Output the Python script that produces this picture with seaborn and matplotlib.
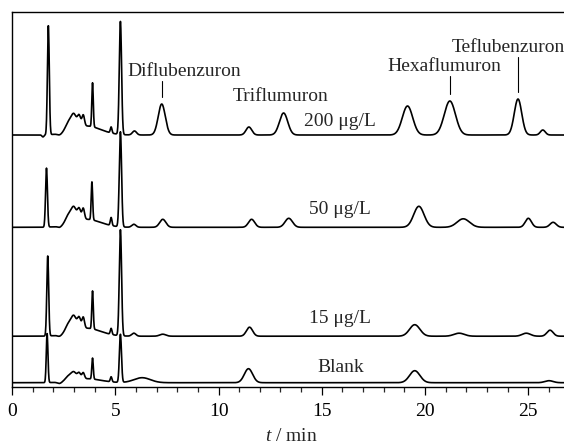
import numpy as np
import pandas as pd
import matplotlib
matplotlib.use("Agg")
import matplotlib.pyplot as plt
import seaborn as sns

# ---- data (y in arbitrary signal units) ----
traces = ["Blank", "15 μg/L", "50 μg/L", "200 μg/L"]
baselines = [4.0, 50.5, 159.4, 251.7]

# peak tables: retention time (min), height, width (sigma, min)
blank_t = [1.7, 2.3, 2.75, 3.0, 3.25, 3.45, 3.6, 3.9, 4.8, 5.25, 6.3, 11.45, 19.5, 26.0]
blank_h = [49, -1.5, 5, 7, 6, 6, 4, 21, 5, 48, 5, 14, 12, 2]
blank_w = [0.04, 0.1, 0.15, 0.12, 0.08, 0.06, 0.7, 0.035, 0.04, 0.05, 0.4, 0.2, 0.25, 0.2]

c15_t = [1.73, 2.3, 2.75, 3.0, 3.25, 3.45, 3.6, 3.9, 4.8, 5.25, 5.9, 7.3, 11.5, 19.5, 21.65, 24.9, 26.05]
c15_h = [80, -1.5, 9, 13, 11, 11, 8, 38, 6, 106, 3, 2, 9, 11.5, 3, 3, 6]
c15_w = [0.045, 0.1, 0.15, 0.12, 0.08, 0.06, 0.7, 0.035, 0.04, 0.055, 0.1, 0.15, 0.15, 0.25, 0.25, 0.2, 0.15]

c50_t = [1.67, 2.3, 2.75, 3.0, 3.25, 3.45, 3.6, 3.87, 4.8, 5.25, 5.9, 7.3, 11.6, 13.4, 19.7, 21.85, 25.0, 26.2]
c50_h = [59, -1.5, 9, 13, 11, 11, 8, 38, 8, 95, 3, 8, 8, 9, 21, 8.5, 9, 5]
c50_w = [0.045, 0.1, 0.15, 0.12, 0.08, 0.06, 0.7, 0.035, 0.04, 0.055, 0.1, 0.15, 0.15, 0.18, 0.25, 0.3, 0.15, 0.15]

c200_t = [1.5, 1.76, 2.3, 2.75, 3.0, 3.25, 3.45, 3.6, 3.9, 4.8, 5.25, 5.93, 7.25, 11.47, 13.15, 19.15, 21.2, 24.5, 25.7]
c200_h = [-2, 109, -1.5, 9, 13, 11, 11, 9, 44, 6, 113, 4, 31, 8, 22, 29, 34, 36, 5]
c200_w = [0.05, 0.045, 0.1, 0.15, 0.12, 0.08, 0.06, 0.7, 0.035, 0.04, 0.055, 0.1, 0.17, 0.14, 0.2, 0.25, 0.27, 0.18, 0.12]

peak_tables = [(blank_t, blank_h, blank_w), (c15_t, c15_h, c15_w),
               (c50_t, c50_h, c50_w), (c200_t, c200_h, c200_w)]

compounds = ["Diflubenzuron", "Triflumuron", "Hexaflumuron", "Teflubenzuron"]
compound_rt = [7.25, 13.15, 21.2, 24.5]

x_ticks = [0, 5, 10, 15, 20, 25]

# ---- build curves from peak tables ----
t = np.arange(0, 27.001, 0.01)
frames = []
for name, base, (pt, ph, pw) in zip(traces, baselines, peak_tables):
    y = np.full_like(t, base)
    for a, h, w in zip(pt, ph, pw):
        y = y + h * np.exp(-0.5 * ((t - a) / w) ** 2)
    frames.append(pd.DataFrame({"t": t, "signal": y, "trace": name}))
df = pd.concat(frames, ignore_index=True)

sns.set_theme(style="white")
plt.rcParams["font.family"] = ["Liberation Serif", "DejaVu Serif"]
plt.rcParams["mathtext.fontset"] = "custom"
plt.rcParams["mathtext.it"] = "Liberation Serif:italic"
plt.rcParams["mathtext.rm"] = "Liberation Serif"

fig = plt.figure(figsize=(5.64, 4.45), dpi=100)
ax = fig.add_axes([12 / 564, 1 - 386.7 / 445, 1 - 12 / 564 + 0.01, (386.7 - 12) / 445])

sns.lineplot(data=df, x="t", y="signal", hue="trace", palette=["black"] * 4,
             legend=False, linewidth=1.2, ax=ax, estimator=None, sort=False)

ax.set_xlim(0, 27)
ax.set_ylim(0, 374.7)
ax.set_yticks([])
ax.set_xticks(x_ticks)
ax.set_xticks(np.arange(0, 28, 1), minor=True)
ax.tick_params(axis="x", which="major", direction="out", length=5.8, width=0.9,
               labelsize=14, pad=6, bottom=True, colors="black")
ax.tick_params(axis="x", which="minor", direction="out", length=3.6, width=0.9, bottom=True)
for s in ["left", "bottom", "top"]:
    ax.spines[s].set_color("black")
    ax.spines[s].set_linewidth(1.0)
ax.spines["right"].set_visible(False)
ax.set_xlabel(r"$t$ / min", fontsize=14, labelpad=6)
ax.set_ylabel("")

fs = 14
# trace labels
label_y = [19, 67.7, 176.7, 264.7]
for name, ly in zip(traces, label_y):
    ax.text(15.9, ly, name, ha="center", va="center", fontsize=fs)

# compound labels with leader lines
peak_top = {7.25: 251.7 + 31, 13.15: 251.7 + 22, 21.2: 251.7 + 34, 24.5: 251.7 + 36}
text_pos = [(8.33, 315), (13.0, 289.7), (20.94, 320), (24.05, 339)]
line_on = [True, False, True, True]
for name, rt, (tx, ty), on in zip(compounds, compound_rt, text_pos, line_on):
    ax.text(tx, ty, name, ha="center", va="center", fontsize=fs)
    if on:
        ax.plot([rt, rt], [peak_top[rt] + 7, ty - 9], color="black", lw=0.8)

fig.savefig("out.png", dpi=100)
